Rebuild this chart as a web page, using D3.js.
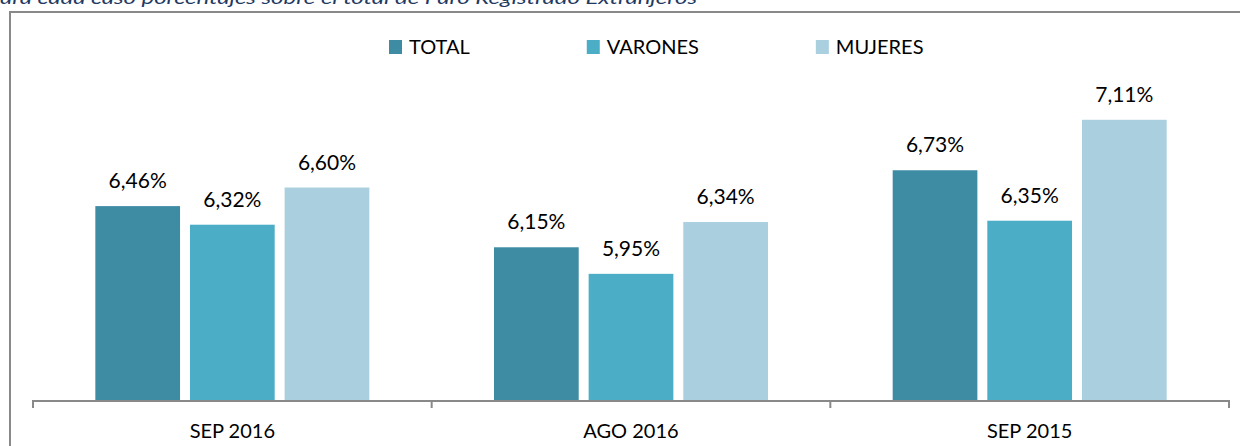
<!DOCTYPE html>
<html>
<head>
<meta charset="utf-8">
<script src="https://cdn.jsdelivr.net/npm/d3@7"></script>
<style>
	body { margin: 0; background: #fff; }
	svg { display: block; font-family: Lato, "Open Sans", sans-serif; }
</style>
</head>
<body>
<svg id="chart" width="1240" height="446"></svg>
<script>
"use strict";

// categories and series
var categories = ["SEP 2016", "AGO 2016", "SEP 2015"];
var series = ["TOTAL", "VARONES", "MUJERES"];
var colors = ["#3d8ca3", "#4badc6", "#aacfdf"];

// percentages per series, one entry per category
var totalValues   = [6.46, 6.15, 6.73];
var varonesValues = [6.32, 5.95, 6.35];
var mujeresValues = [6.60, 6.34, 7.11];

var subtitle = "ara cada caso porcentajes sobre el total de Paro Registrado Extranjeros";

var valuesBySeries = [totalValues, varonesValues, mujeresValues];

function fmt(v) {
	return v.toFixed(2).replace(".", ",") + "%";
}

function draw() {
	var svg = d3.select("#chart");

	var plotLeft = 33, plotRight = 1229, baseY = 400;

	// cut off subtitle at top
	svg.append("text")
		.attr("x", 0)
		.attr("y", 4)
		.attr("textLength", 697)
		.attr("lengthAdjust", "spacingAndGlyphs")
		.style("font-style", "italic")
		.style("font-size", "17px")
		.style("fill", "#1f3b63")
		.text(subtitle);

	// frame (no right edge in view)
	svg.append("path")
		.attr("d", "M10,446L10,12L1240,12")
		.attr("fill", "none")
		.attr("stroke", "#898989")
		.attr("stroke-width", 2);

	var x0 = d3.scaleBand()
		.domain(categories)
		.range([plotLeft, plotRight]);

	var groupW = 274;
	var groupOff = (x0.bandwidth() - groupW) / 2;
	var x1 = d3.scaleBand()
		.domain(series)
		.range([0, groupW])
		.paddingInner(0.105);

	var y = d3.scaleLinear()
		.domain([5, 7.5])
		.range([baseY, 68]);

	// flatten
	var rows = [];
	categories.forEach((c, ci)=>{
		series.forEach((s, si)=>{
			rows.push({cat: c, ser: s, si: si, v: valuesBySeries[si][ci]});
		});
	});

	var bars = svg.append("g");
	bars.selectAll("rect")
		.data(rows)
		.enter()
		.append("rect")
		.attr("x", d=>x0(d.cat) + groupOff + x1(d.ser))
		.attr("width", x1.bandwidth())
		.attr("y", d=>y(d.v))
		.attr("height", d=>baseY - y(d.v))
		.attr("fill", d=>colors[d.si]);

	bars.selectAll("text")
		.data(rows)
		.enter()
		.append("text")
		.attr("x", d=>x0(d.cat) + groupOff + x1(d.ser) + x1.bandwidth() / 2)
		.attr("y", d=>y(d.v) - 18)
		.attr("text-anchor", "middle")
		.style("font-size", "21px")
		.style("fill", "#000")
		.text(d=>fmt(d.v));

	// category axis, ticks between the bands
	var axis = svg.append("g");
	axis.append("line")
		.attr("x1", plotLeft)
		.attr("x2", plotRight)
		.attr("y1", baseY + 1)
		.attr("y2", baseY + 1)
		.attr("stroke", "#898989")
		.attr("stroke-width", 2);
	var edges = categories.map(c=>x0(c)).concat([plotRight]);
	axis.selectAll(".tk")
		.data(edges)
		.enter()
		.append("line")
		.attr("x1", d=>d)
		.attr("x2", d=>d)
		.attr("y1", baseY)
		.attr("y2", baseY + 8)
		.attr("stroke", "#898989")
		.attr("stroke-width", 2);
	axis.selectAll(".lbl")
		.data(categories)
		.enter()
		.append("text")
		.attr("x", d=>x0(d) + x0.bandwidth() / 2)
		.attr("y", 438)
		.attr("text-anchor", "middle")
		.style("font-size", "20px")
		.style("fill", "#000")
		.text(d=>d);

	// legend
	var legend = svg.append("g");
	var lx = 389;
	series.forEach((s, i)=>{
		legend.append("rect")
			.attr("x", lx)
			.attr("y", 40)
			.attr("width", 13)
			.attr("height", 14)
			.attr("fill", colors[i]);
		var t = legend.append("text")
			.attr("x", lx + 20)
			.attr("y", 54)
			.style("font-size", "20px")
			.style("fill", "#000")
			.text(s);
		lx += 20 + t.node().getComputedTextLength() + 117;
	});
}

draw();
</script>
</body>
</html>
